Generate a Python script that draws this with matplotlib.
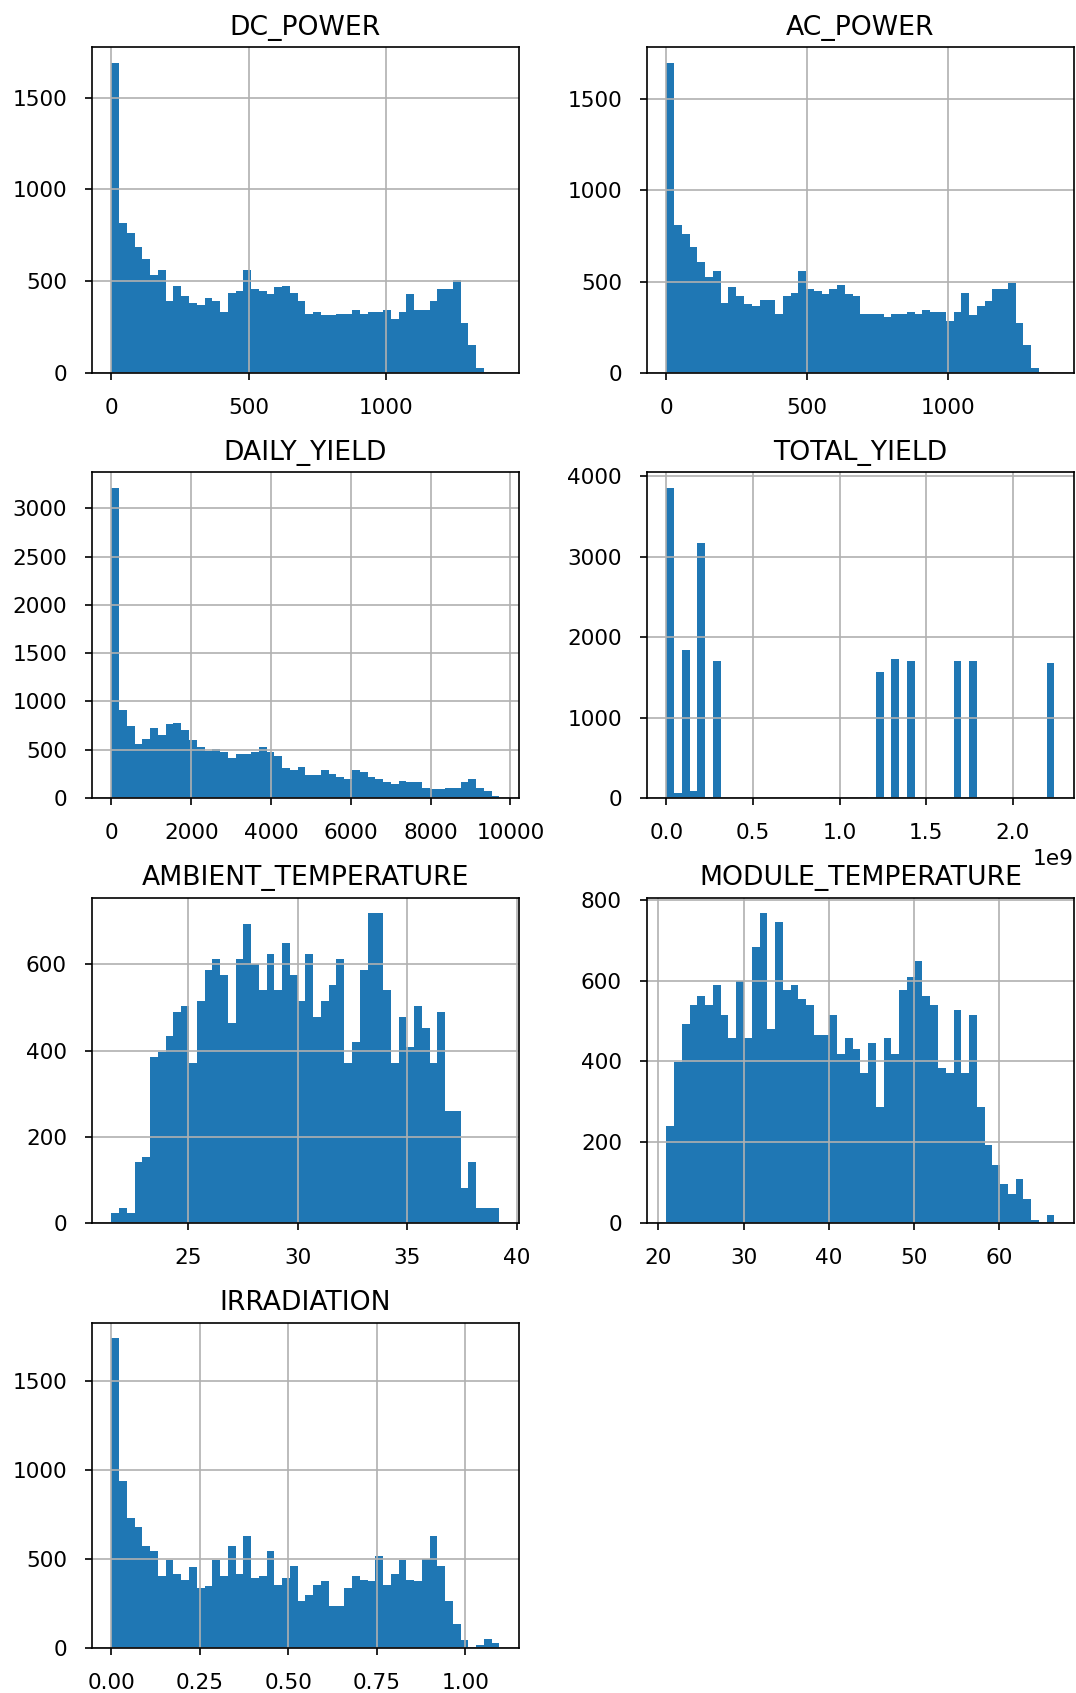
import numpy as np
import matplotlib
matplotlib.use("Agg")
from matplotlib import pyplot as plt

# per-column histogram counts (50 bins each) and the column value range
columns = ["DC_POWER", "AC_POWER", "DAILY_YIELD", "TOTAL_YIELD",
           "AMBIENT_TEMPERATURE", "MODULE_TEMPERATURE", "IRRADIATION"]

dc_power = [1689, 815, 764, 688, 621, 534, 563, 392, 476, 419,
            381, 372, 410, 392, 332, 438, 447, 563, 458, 447,
            430, 467, 476, 438, 390, 323, 332, 314, 314, 323,
            323, 343, 323, 332, 332, 343, 296, 332, 428, 343,
            343, 390, 458, 458, 505, 274, 153, 25, 5, 5]
dc_range = (0, 1414)

ac_power = [1699, 809, 762, 692, 607, 528, 559, 384, 471, 422,
            375, 364, 402, 402, 325, 422, 440, 557, 460, 451,
            431, 460, 479, 431, 422, 325, 325, 325, 307, 325,
            325, 334, 325, 345, 334, 334, 287, 334, 440, 316,
            364, 393, 460, 460, 490, 276, 153, 26, 5, 5]
ac_range = (0, 1380)

daily_yield = [3210, 908, 742, 563, 614, 725, 652, 763, 780, 708,
               597, 525, 490, 507, 473, 418, 452, 452, 473, 525,
               473, 435, 307, 290, 324, 235, 235, 290, 252, 217,
               197, 290, 269, 217, 197, 162, 145, 180, 162, 162,
               107, 90, 90, 107, 107, 162, 197, 107, 69, 17]
daily_range = (0, 9725)

total_yield = [3854, 62, 1836, 83, 3174, 12, 1703, 0, 0, 0,
               0, 0, 0, 0, 0, 0, 0, 0, 0, 0,
               0, 15, 0, 0, 0, 15, 0, 1571, 0, 1728,
               0, 1703, 0, 0, 0, 0, 0, 1703, 0, 1703,
               0, 0, 0, 0, 0, 0, 0, 0, 0, 1683]
total_range = (0, 2.24e9)

ambient_temp = [23, 36, 23, 141, 154, 384, 396, 433, 489, 503,
                371, 514, 588, 612, 575, 465, 612, 694, 600, 540,
                625, 540, 650, 575, 514, 625, 478, 514, 551, 612,
                371, 420, 588, 719, 719, 540, 371, 478, 408, 503,
                453, 371, 489, 261, 261, 82, 141, 36, 36, 36]
ambient_range = (21.52, 39.20)

module_temp = [239, 399, 492, 540, 562, 540, 588, 514, 459, 598,
               459, 684, 767, 480, 746, 576, 588, 554, 540, 466,
               466, 514, 419, 459, 431, 371, 445, 287, 459, 419,
               576, 610, 649, 562, 540, 384, 371, 527, 371, 514,
               287, 192, 144, 96, 71, 109, 60, 8, 0, 21]
module_range = (20.94, 66.52)

irradiation = [1740, 938, 732, 680, 573, 545, 406, 496, 416, 384,
               455, 337, 346, 496, 406, 573, 416, 631, 395, 404,
               545, 356, 395, 463, 266, 298, 356, 375, 236, 236,
               337, 404, 384, 375, 515, 356, 416, 496, 384, 376,
               502, 631, 463, 266, 137, 47, 9, 19, 49, 30]
irr_range = (0, 1.096)

counts = [dc_power, ac_power, daily_yield, total_yield,
          ambient_temp, module_temp, irradiation]
ranges = [dc_range, ac_range, daily_range, total_range,
          ambient_range, module_range, irr_range]

plt.rcParams['font.size'] = 10.4
plt.rcParams['axes.titlesize'] = 12.8
plt.rcParams['xtick.major.pad'] = 8.5
plt.rcParams['ytick.major.pad'] = 8.5

fig, axes = plt.subplots(4, 2, figsize=(1076 / 150, 1693 / 150), dpi=150)
fig.subplots_adjust(left=0.0855, right=0.998, top=0.972, bottom=0.0265,
                    wspace=0.30, hspace=0.306)

for ax, name, c, (lo, hi) in zip(axes.flat, columns, counts, ranges):
    edges = np.linspace(lo, hi, len(c) + 1)
    mids = (edges[:-1] + edges[1:]) / 2
    ax.hist(mids, bins=edges, weights=c)
    ax.set_title(name, fontsize=12.8)
    ax.grid(True)

axes.flat[-1].remove()

fig.savefig("out.png", dpi=150)
